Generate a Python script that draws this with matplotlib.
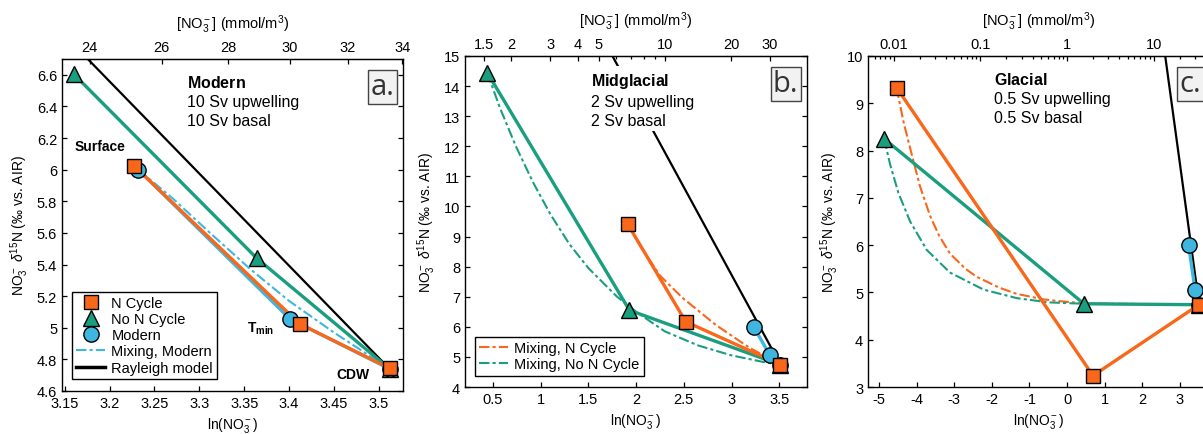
import numpy as np
import matplotlib.pyplot as plt
from matplotlib.lines import Line2D
from matplotlib.ticker import FuncFormatter, NullFormatter

plt.rcParams['font.family'] = ['Liberation Sans', 'DejaVu Sans']
plt.rcParams['mathtext.fontset'] = 'custom'
plt.rcParams['mathtext.rm'] = 'Liberation Sans'
plt.rcParams['mathtext.it'] = 'Liberation Sans:italic'
plt.rcParams['mathtext.bf'] = 'Liberation Sans:bold'

ORANGE = '#F8671A'
TEAL = '#1A9E80'
BLUE = '#3EB6DF'

# Rayleigh model (same line in every panel)
rayleigh_ln = [1.70, 3.512]
rayleigh_d15 = [15.30, 4.74]

# Modern reference points (surface, T_min, CDW)
modern_ln = [3.232, 3.401, 3.512]
modern_d15 = [6.00, 5.056, 4.74]

# a. Modern
a_ncyc_ln = [3.227, 3.412, 3.512]
a_ncyc_d15 = [6.025, 5.024, 4.744]
a_non_ln = [3.160, 3.364, 3.512]
a_non_d15 = [6.605, 5.44, 4.74]
a_mix_ln = [3.232, 3.270, 3.310, 3.357, 3.400, 3.450, 3.512]
a_mix_d15 = [6.00, 5.82, 5.61, 5.37, 5.17, 4.97, 4.74]

# b. Midglacial
b_ncyc_ln = [1.91, 2.52, 3.512]
b_ncyc_d15 = [9.42, 6.17, 4.744]
b_non_ln = [0.44, 1.93, 3.512]
b_non_d15 = [14.45, 6.55, 4.74]
b_mixn_ln = [1.91, 2.04, 2.25, 2.49, 2.84, 3.19, 3.47, 3.512]
b_mixn_d15 = [9.42, 8.70, 7.70, 6.95, 6.05, 5.30, 4.82, 4.74]
b_mixno_ln = [0.44, 0.57, 0.74, 0.92, 1.10, 1.30, 1.50, 1.80, 2.00, 2.30, 2.65, 3.00, 3.35, 3.512]
b_mixno_d15 = [14.45, 13.3, 12.0, 10.8, 9.75, 8.75, 7.95, 7.0, 6.5, 5.85, 5.38, 5.05, 4.82, 4.74]

# c. Glacial
c_ncyc_ln = [-4.53, 0.69, 3.512]
c_ncyc_d15 = [9.33, 3.24, 4.744]
c_non_ln = [-4.86, 0.45, 3.512]
c_non_d15 = [8.25, 4.76, 4.74]
c_mixn_ln = [-4.53, -4.35, -4.17, -3.91, -3.64, -3.40, -3.11, -2.70, -2.40, -1.80, -1.34, -0.60, 0.0, 0.45, 3.512]
c_mixn_d15 = [9.33, 8.62, 8.05, 7.25, 6.62, 6.20, 5.82, 5.50, 5.33, 5.10, 4.97, 4.85, 4.80, 4.77, 4.74]
c_mixno_ln = [-4.86, -4.70, -4.48, -4.17, -3.73, -3.11, -2.22, -1.34, -0.50, 0.45, 3.512]
c_mixno_d15 = [8.25, 7.70, 7.10, 6.50, 5.90, 5.42, 5.06, 4.88, 4.79, 4.76, 4.74]

mixstyle = (0, (5, 1.5, 1.5, 1.5))
gfmt = FuncFormatter(lambda v, p: '%g' % v)


def panel(ax, ncyc, non, mixes, xlim, ylim, xticks, yticks,
          top_major, top_minor, head, sub, letter):
    ax.plot(rayleigh_ln, rayleigh_d15, color='black', lw=1.6, zorder=1)
    for x, y, c in mixes:
        ax.plot(x, y, color=c, lw=1.5, ls=mixstyle, zorder=2)
    ax.plot(non[0], non[1], color=TEAL, lw=2.4, zorder=3)
    ax.plot(modern_ln, modern_d15, color=BLUE, lw=2.4, zorder=3)
    ax.plot(ncyc[0], ncyc[1], color=ORANGE, lw=2.4, zorder=3)
    ax.plot(non[0], non[1], ls='none', marker='^', ms=12, mfc=TEAL, mec='black', mew=1, zorder=4)
    ax.plot(modern_ln, modern_d15, ls='none', marker='o', ms=11, mfc=BLUE, mec='black', mew=1, zorder=5)
    ax.plot(ncyc[0], ncyc[1], ls='none', marker='s', ms=10, mfc=ORANGE, mec='black', mew=1, zorder=6)

    ax.set_xlim(xlim)
    ax.set_ylim(ylim)
    ax.set_xticks(xticks)
    ax.set_yticks(yticks)
    ax.xaxis.set_major_formatter(gfmt)
    ax.yaxis.set_major_formatter(gfmt)
    ax.tick_params(direction='in', length=3.5, width=0.9, labelsize=10.5,
                   right=True, top=False)
    for s in ax.spines.values():
        s.set_linewidth(1.0)
    ax.set_xlabel(r'ln(NO$_3^-$)', fontsize=10, labelpad=4)
    ax.set_ylabel(r'NO$_3^-$ $\delta^{15}$N (‰ vs. AIR)', fontsize=10, labelpad=4)

    sec = ax.secondary_xaxis('top', functions=(np.exp, np.log))
    sec.set_xticks(top_major)
    sec.set_xticks(top_minor, minor=True)
    sec.xaxis.set_major_formatter(gfmt)
    sec.xaxis.set_minor_formatter(NullFormatter())
    sec.tick_params(which='both', direction='in', width=0.9, labelsize=10.5)
    sec.tick_params(which='major', length=3.5)
    sec.tick_params(which='minor', length=2)
    sec.set_xlabel(r'[NO$_3^-$] (mmol/m$^3$)', fontsize=10.5, labelpad=9)

    ax.text(0.368, 0.955, r'$\mathbf{' + head + '}$\n' + sub, transform=ax.transAxes,
            ha='left', va='top', fontsize=11.5, linespacing=1.35, zorder=7,
            bbox=dict(boxstyle='square,pad=0.2', fc='white', ec='none'))
    ax.text(0.975, 0.96, letter, transform=ax.transAxes, ha='right', va='top',
            fontsize=21, color='#333333', family=['Open Sans', 'DejaVu Sans'], zorder=8,
            bbox=dict(boxstyle='square,pad=0.08', fc='#F2F2F2', ec='#444444', lw=1))


fig = plt.figure(figsize=(12.03, 4.35), dpi=100)
ax_a = fig.add_axes([62 / 1203, 1 - 392 / 435, 341 / 1203, 332 / 435])
ax_b = fig.add_axes([465 / 1203, 1 - 388 / 435, 342 / 1203, 331 / 435])
ax_c = fig.add_axes([868 / 1203, 1 - 388 / 435, 342 / 1203, 331 / 435])

panel(ax_a, (a_ncyc_ln, a_ncyc_d15), (a_non_ln, a_non_d15),
      [(a_mix_ln, a_mix_d15, BLUE)],
      (3.147, 3.527), (4.6, 6.7), np.arange(3.15, 3.51, 0.05), np.arange(4.6, 6.61, 0.2),
      [24, 26, 28, 30, 32, 34], [], 'Modern', '10 Sv upwelling\n10 Sv basal', 'a.')
panel(ax_b, (b_ncyc_ln, b_ncyc_d15), (b_non_ln, b_non_d15),
      [(b_mixn_ln, b_mixn_d15, ORANGE), (b_mixno_ln, b_mixno_d15, TEAL)],
      (0.207, 3.79), (4, 15), np.arange(0.5, 3.6, 0.5), np.arange(4, 16, 1),
      [1.5, 2, 3, 4, 5, 10, 20, 30], [6, 7, 8, 9], 'Midglacial', '2 Sv upwelling\n2 Sv basal', 'b.')
panel(ax_c, (c_ncyc_ln, c_ncyc_d15), (c_non_ln, c_non_d15),
      [(c_mixn_ln, c_mixn_d15, ORANGE), (c_mixno_ln, c_mixno_d15, TEAL)],
      (-5.29, 3.80), (3, 10), np.arange(-5, 4, 1), np.arange(3, 11, 1),
      [0.01, 0.1, 1, 10],
      [0.006, 0.007, 0.008, 0.009] + [k * 0.01 for k in range(2, 10)] + [k * 0.1 for k in range(2, 10)]
      + list(range(2, 10)) + [20, 30, 40],
      'Glacial', '0.5 Sv upwelling\n0.5 Sv basal', 'c.')

# labels for panel a end-members
ax_a.text(3.189, 6.15, 'Surface', fontsize=10, fontweight='bold', ha='center', va='center')
ax_a.text(3.368, 5.0, r'$\mathbf{T_{min}}$', fontsize=10, ha='center', va='center')
ax_a.text(3.471, 4.71, 'CDW', fontsize=10, fontweight='bold', ha='center', va='center')

mk = dict(ls='none', mec='black', mew=1)
h_a = [Line2D([], [], marker='s', ms=10, mfc=ORANGE, **mk),
       Line2D([], [], marker='^', ms=12, mfc=TEAL, **mk),
       Line2D([], [], marker='o', ms=11, mfc=BLUE, **mk),
       Line2D([], [], color=BLUE, lw=1.5, ls=mixstyle),
       Line2D([], [], color='black', lw=2.5)]
ax_a.legend(h_a, ['N Cycle', 'No N Cycle', 'Modern', 'Mixing, Modern', 'Rayleigh model'],
            loc='lower left', bbox_to_anchor=(0.029, 0.036), borderaxespad=0,
            fontsize=10.5, fancybox=False, edgecolor='black', framealpha=1,
            handlelength=2.0, handletextpad=0.4, labelspacing=0.15, borderpad=0.3)

h_b = [Line2D([], [], color=ORANGE, lw=1.5, ls=mixstyle),
       Line2D([], [], color=TEAL, lw=1.5, ls=mixstyle)]
leg_b = ax_b.legend(h_b, ['Mixing, N Cycle', 'Mixing, No N Cycle'],
                    loc='lower left', bbox_to_anchor=(0.029, 0.034), borderaxespad=0,
                    fontsize=10.5, fancybox=False, edgecolor='black', framealpha=1,
                    handlelength=2.0, handletextpad=0.4, labelspacing=0.15, borderpad=0.3)
leg_b.set_zorder(9)

plt.savefig('out.png', dpi=100)
